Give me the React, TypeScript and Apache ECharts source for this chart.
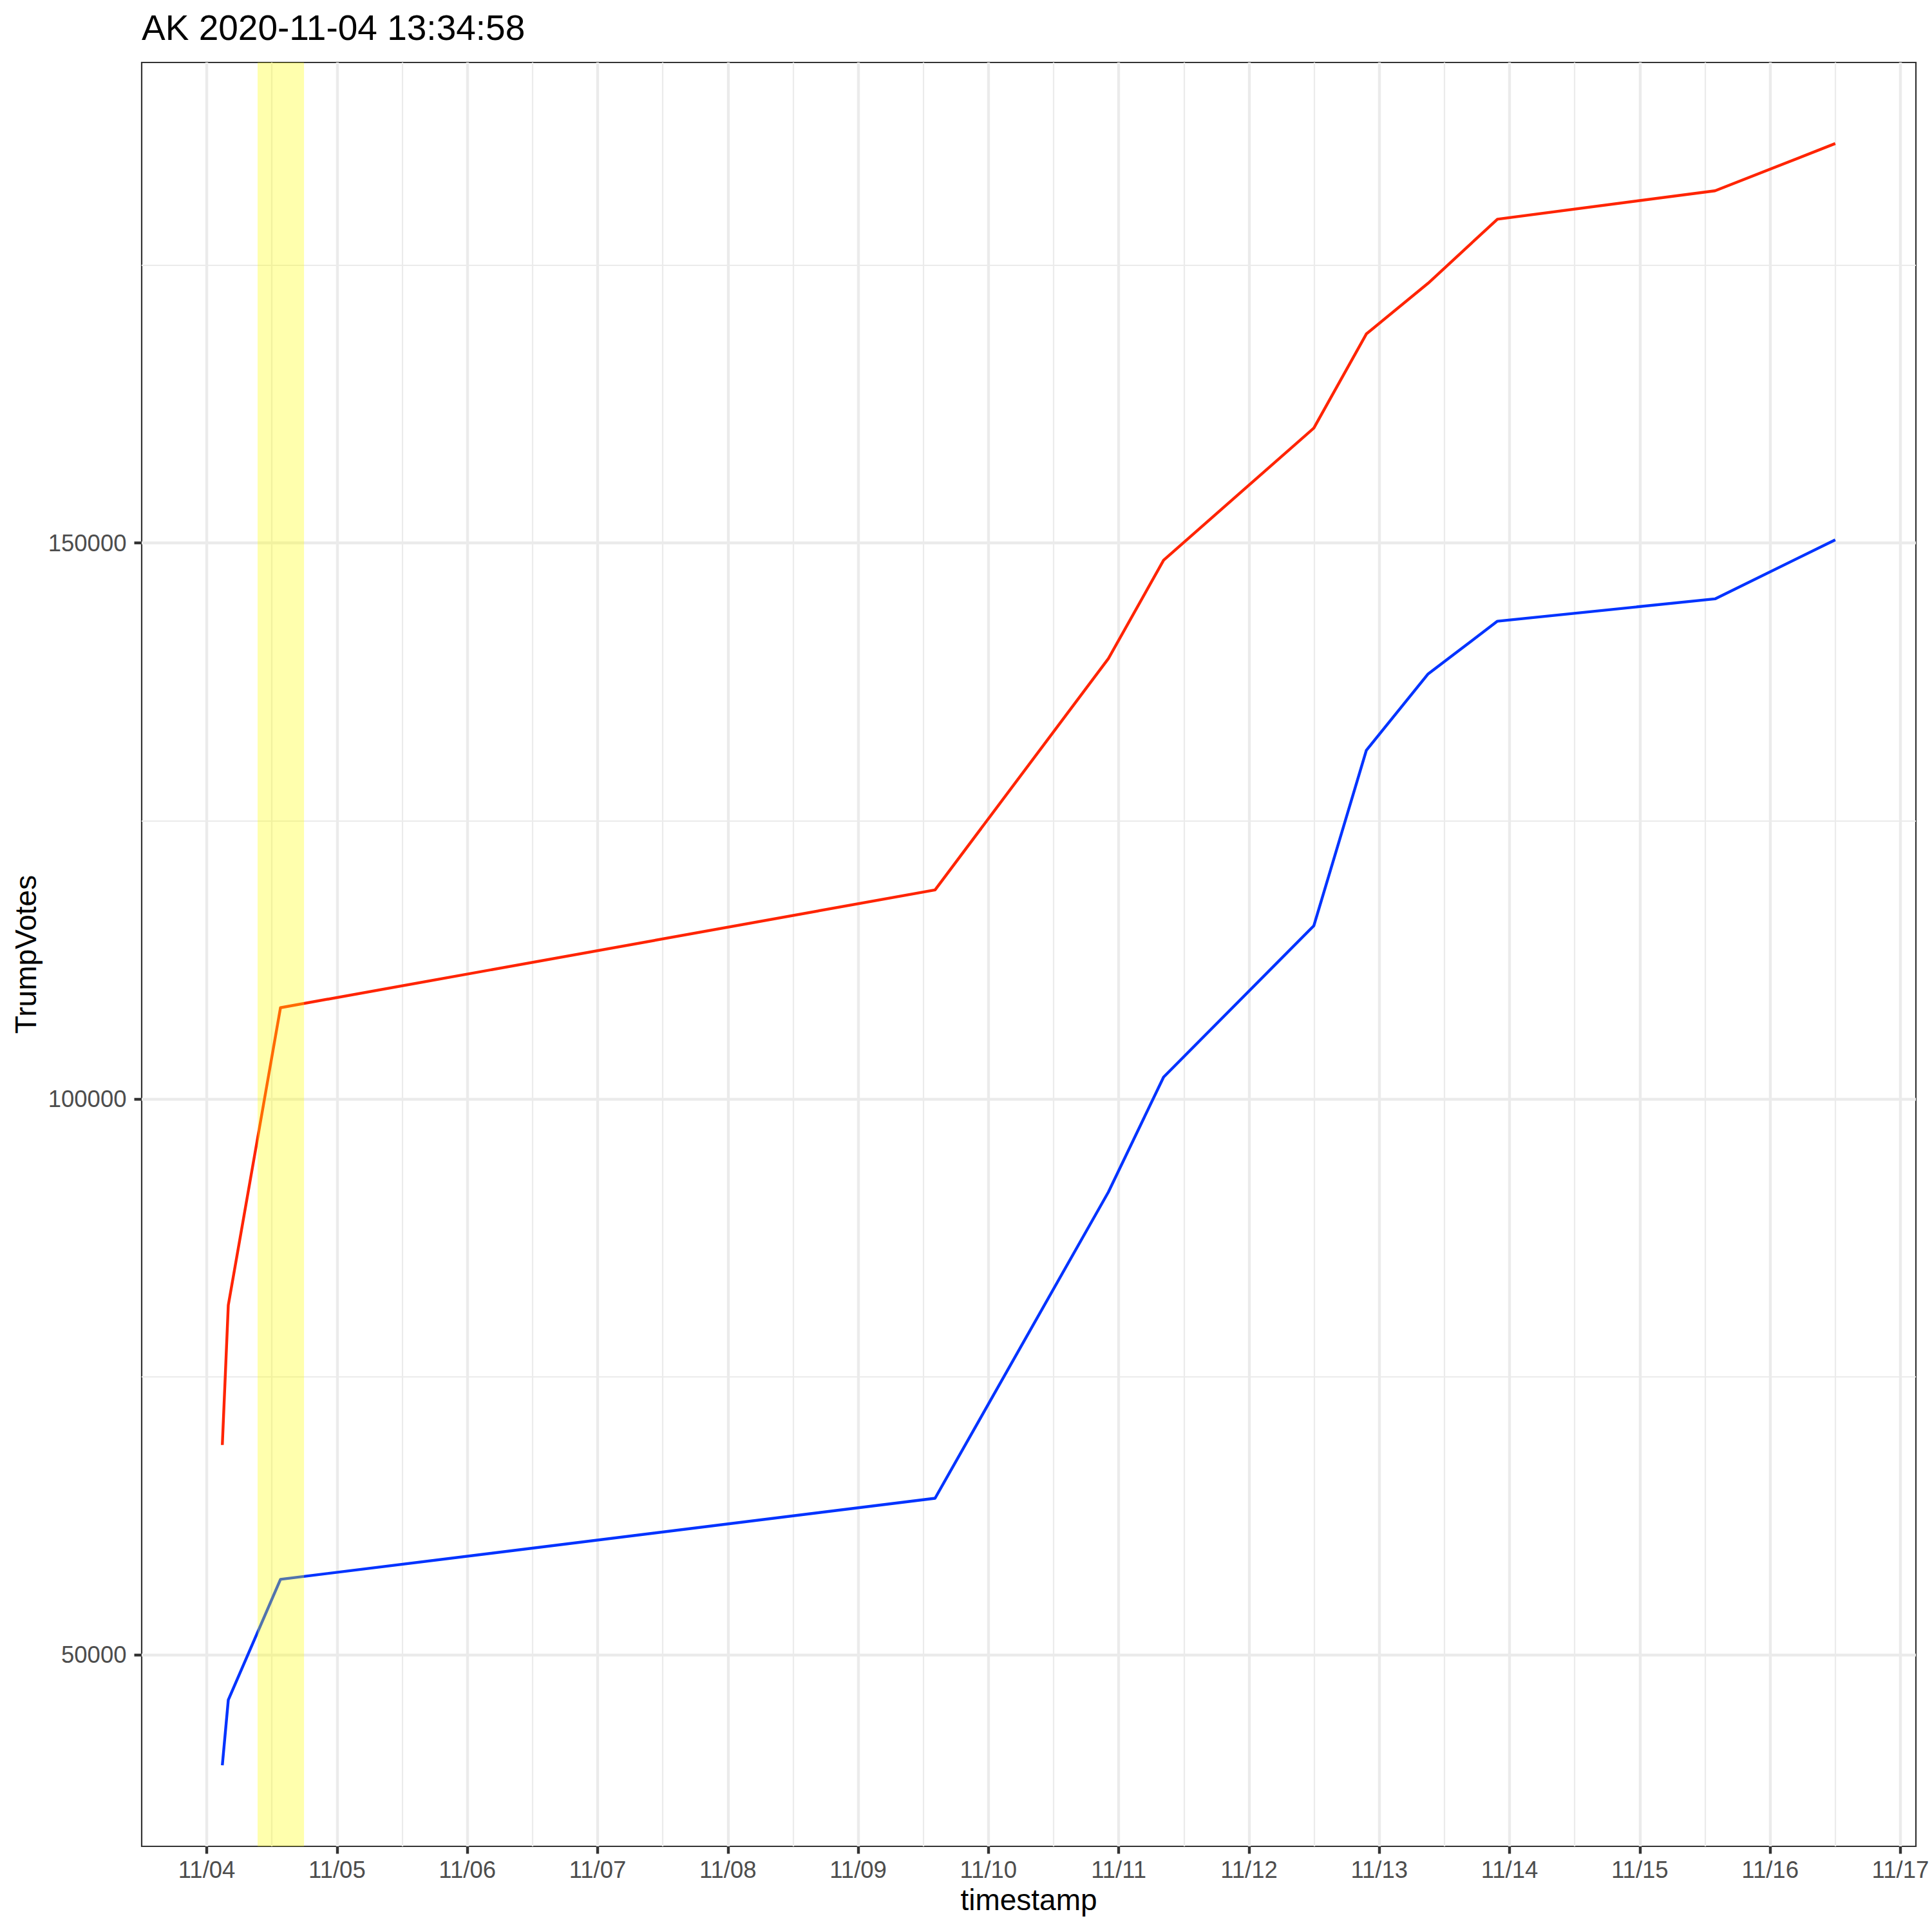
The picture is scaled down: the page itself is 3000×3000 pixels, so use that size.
import React, { useEffect, useRef } from "react";
import * as echarts from "echarts";

// ---- data ----
const timestamps = [
  "2020-11-04 02:52:00",
  "2020-11-04 03:58:00",
  "2020-11-04 13:34:58",
  "2020-11-09 14:10:00",
  "2020-11-10 22:06:00",
  "2020-11-11 08:16:00",
  "2020-11-12 11:57:00",
  "2020-11-12 21:37:00",
  "2020-11-13 09:00:00",
  "2020-11-13 21:46:00",
  "2020-11-15 13:51:00",
  "2020-11-16 12:00:00",
];
const trumpVotes = [68890, 81460, 108210, 118800, 139600, 148450, 160330, 168790, 173350, 179110, 181660, 185910];
const bidenVotes = [40090, 45960, 56810, 64100, 91630, 101970, 115580, 131350, 138220, 142960, 144970, 150280];

const highlightStart = "2020-11-04 09:22:00";
const highlightEnd = "2020-11-04 17:55:00";

const dayLabels = ["11/04", "11/05", "11/06", "11/07", "11/08", "11/09", "11/10", "11/11", "11/12", "11/13", "11/14", "11/15", "11/16", "11/17"];
const yMajorTicks = [50000, 100000, 150000];
const yMinorTicks = [75000, 125000, 175000];

const titleText = "AK 2020-11-04 13:34:58";
const xTitle = "timestamp";
const yTitle = "TrumpVotes";

// days since 2020-11-04 00:00 (UTC-independent)
const ORIGIN = Date.UTC(2020, 10, 4);
function toDays(s: string): number {
  const [d, t] = s.split(" ");
  const [Y, M, D] = d.split("-").map(Number);
  const [h, m, sec] = t.split(":").map(Number);
  return (Date.UTC(Y, M - 1, D, h, m, sec || 0) - ORIGIN) / 86400000;
}

export default function App() {
  const ref = useRef<HTMLDivElement>(null);
  useEffect(() => {
    if (!ref.current) return;
    const chart = echarts.init(ref.current, undefined, { renderer: "svg" });
    const xs = timestamps.map(toDays);
    const xMinD = Math.min(...xs), xMaxD = Math.max(...xs);
    const xr = xMaxD - xMinD;
    const allY = trumpVotes.concat(bidenVotes);
    const yMinD = Math.min(...allY), yMaxD = Math.max(...allY);
    const yr = yMaxD - yMinD;
    const xMin = xMinD - 0.05 * xr, xMax = xMaxD + 0.05 * xr;
    const yMin = yMinD - 0.05 * yr, yMax = yMaxD + 0.05 * yr;

    const dayValues = dayLabels.map((_, i) => i);
    const noonValues = dayLabels.map((_, i) => i - 0.5);

    const gridColor = "#EBEBEB";
    const tickFont = { color: "#4D4D4D", fontSize: 36.5, fontFamily: "Liberation Sans, Arial, sans-serif" };

    const grid = { left: 220, top: 97, right: 25, bottom: 133, show: true, borderColor: "#333333", borderWidth: 2.2, backgroundColor: "transparent" };

    chart.setOption({
      animation: false,
      backgroundColor: "#ffffff",
      grid,
      xAxis: [
        {
          type: "value",
          min: xMin,
          max: xMax,
          position: "bottom",
          axisLine: { show: false, onZero: false },
          axisTick: { show: true, length: 11.5, lineStyle: { color: "#333333", width: 4.4 }, customValues: dayValues },
          axisLabel: {
            show: true,
            customValues: dayValues,
            margin: 18,
            ...tickFont,
            formatter: (v: number) => dayLabels[Math.round(v)] ?? "",
          },
          splitLine: { show: true, lineStyle: { color: gridColor, width: 4.4 } },
          z: 1,
        },
        {
          type: "value",
          min: xMin,
          max: xMax,
          position: "bottom",
          axisLine: { show: false, onZero: false },
          axisTick: { show: false, customValues: noonValues },
          axisLabel: { show: false, customValues: noonValues },
          splitLine: { show: true, lineStyle: { color: gridColor, width: 2.2 } },
          z: 0,
        },
      ],
      yAxis: [
        {
          type: "value",
          min: yMin,
          max: yMax,
          position: "left",
          axisLine: { show: false, onZero: false },
          axisTick: { show: true, length: 11.5, lineStyle: { color: "#333333", width: 4.4 }, customValues: yMajorTicks },
          axisLabel: { show: true, customValues: yMajorTicks, margin: 23.5, ...tickFont, formatter: (v: number) => String(v) },
          splitLine: { show: true, lineStyle: { color: gridColor, width: 4.4 } },
          z: 1,
        },
        {
          type: "value",
          min: yMin,
          max: yMax,
          position: "left",
          axisLine: { show: false, onZero: false },
          axisTick: { show: false, customValues: yMinorTicks },
          axisLabel: { show: false, customValues: yMinorTicks },
          splitLine: { show: true, lineStyle: { color: gridColor, width: 2.2 } },
          z: 0,
        },
      ],
      series: [
        {
          name: "BidenVotes",
          type: "line",
          xAxisIndex: 0,
          yAxisIndex: 0,
          data: xs.map((x, i) => [x, bidenVotes[i]]),
          showSymbol: false,
          symbol: "none",
          lineStyle: { color: "#0033FF", width: 4.4, join: "round" },
          z: 3,
        },
        {
          name: "TrumpVotes",
          type: "line",
          xAxisIndex: 0,
          yAxisIndex: 0,
          data: xs.map((x, i) => [x, trumpVotes[i]]),
          showSymbol: false,
          symbol: "none",
          lineStyle: { color: "#FF2400", width: 4.4, join: "round" },
          z: 3,
        },
        {
          name: "highlight",
          type: "line",
          xAxisIndex: 0,
          yAxisIndex: 0,
          data: [],
          z: 10,
          silent: true,
          markArea: {
            silent: true,
            z: 10,
            itemStyle: { color: "rgba(255,255,0,0.32)" },
            data: [[{ xAxis: toDays(highlightStart) }, { xAxis: toDays(highlightEnd) }]],
          },
        },
      ],
      graphic: [
        {
          type: "text",
          x: 220,
          y: 43,
          style: { text: titleText, fontSize: 55, fill: "#000000", fontFamily: "Liberation Sans, Arial, sans-serif", align: "left", verticalAlign: "middle" },
        },
        {
          type: "text",
          x: 1597.5,
          y: 2950,
          style: { text: xTitle, fontSize: 46, fill: "#000000", fontFamily: "Liberation Sans, Arial, sans-serif", align: "center", verticalAlign: "middle" },
        },
        {
          type: "text",
          x: 40,
          y: 1482,
          rotation: Math.PI / 2,
          style: { text: yTitle, fontSize: 46, fill: "#000000", fontFamily: "Liberation Sans, Arial, sans-serif", align: "center", verticalAlign: "middle" },
        },
      ],
    });
    return () => chart.dispose();
  }, []);
  return <div ref={ref} style={{ position: "absolute", left: 0, top: 0, width: 3000, height: 3000 }} />;
}
